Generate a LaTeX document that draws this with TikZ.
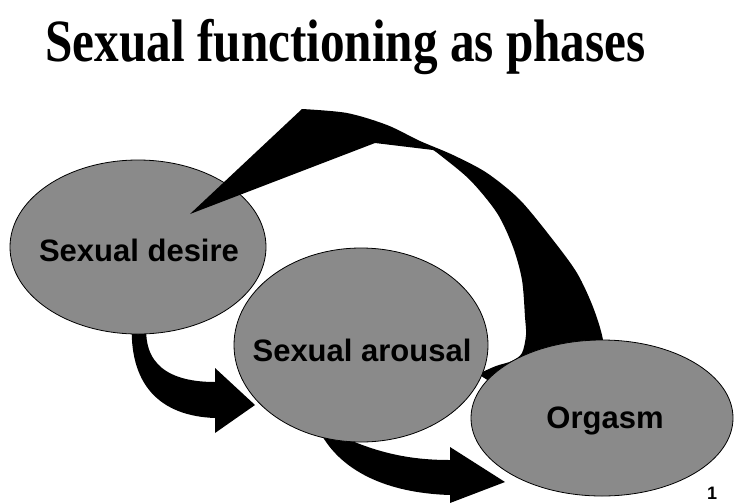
\documentclass[tikz,border=0pt]{standalone}
\usepackage{fontspec}
\setmainfont{Liberation Serif}
\newfontfamily\phasefont{Liberation Sans}
\usetikzlibrary{shapes.geometric}

\definecolor{phasegray}{gray}{0.54}
\tikzset{
  phase/.style={ellipse, draw, line width=0.8pt, fill=phasegray, inner sep=0pt},
  phasetext/.style={font=\phasefont\bfseries\fontsize{31}{31}\selectfont, inner sep=0pt},
}

\begin{document}
\begin{tikzpicture}[x=1pt, y=-1pt]
      \useasboundingbox (0,0) rectangle (735,503);

      \node[anchor=base west, font=\bfseries\fontsize{60}{60}\selectfont] (title) at (42,62) {\scalebox{0.82}[1]{Sexual functioning as phases}};

      \fill (132,320) -- (147,320) .. controls (141,365) and (170,382) .. (215,382) -- (215,368) -- (255,405) -- (215,433) -- (215,418) .. controls (160,416) and (128,385) .. (132,320) -- cycle;

      \node[phase, minimum width=256pt, minimum height=174pt] (desire) at (138,247) {};
      \node[phasetext] (desire text) at (139,250) {Sexual desire};

      \fill (190,214) -- plot [smooth] coordinates {(302,109) (347,113) (387,125) (420,141) (453,155) (487,173) (520,200) (553,240) (577,273) (593,307) (603,340) (606,380)}
        -- (500,388) -- plot [smooth] coordinates {(478,374) (496,366) (512,361) (522,353) (526,335) (525,317) (522,280) (513,247) (497,213) (470,180) (440,155) (433,150)}
        -- (375,143) -- cycle;

      \fill (325,428) .. controls (375,455) and (415,460) .. (450,460) -- (450,447) -- (505,482) -- (450,503) -- (450,495) .. controls (385,493) and (340,470) .. (320,432) -- cycle;

      \node[phase, minimum width=254pt, minimum height=194pt] (arousal) at (361,345) {};
      \node[phasetext] (arousal text) at (362,350) {Sexual arousal};
      \node[phase, minimum width=262pt, minimum height=156pt] (orgasm) at (602,418) {};
      \node[phasetext] (orgasm text) at (605,421) {Orgasm};

      \node[font=\phasefont\bfseries\fontsize{18}{18}\selectfont] (page) at (712,493) {1};
\end{tikzpicture}
\end{document}
